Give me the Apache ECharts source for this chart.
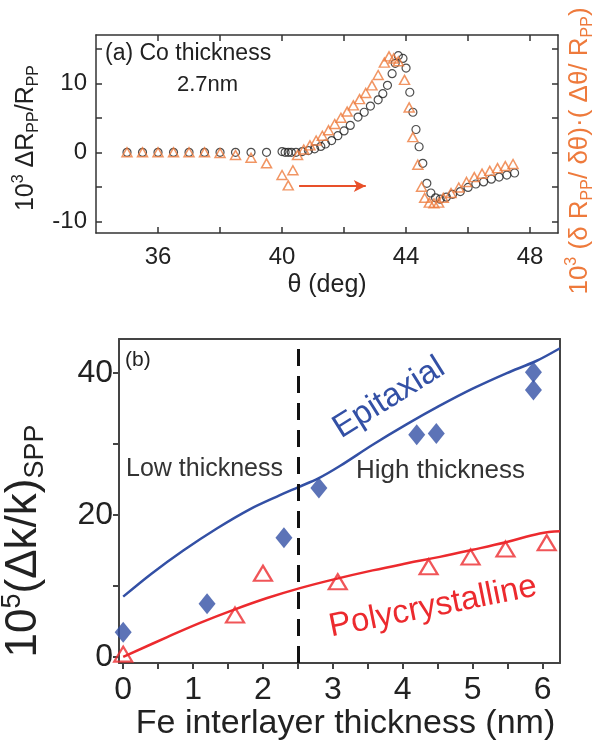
<!DOCTYPE html>
<html><head><meta charset="utf-8">
<script src="https://cdn.jsdelivr.net/npm/echarts@6/dist/echarts.min.js"></script>
<style>html,body{margin:0;padding:0;background:#fff}#c{width:593px;height:747px}</style>
</head><body><div id="c"></div>
<script>
// ---- Panel (a) data ----
const thetaCircles = [35,35.5,36,36.5,37,37.5,38,38.5,39,39.5,
  40.0,40.1,40.2,40.3,40.45,40.65,40.85,41.05,41.25,41.4,41.6,41.8,42.0,42.2,
  42.45,42.65,42.85,43.1,43.25,43.4,43.55,43.65,43.75,43.9,
  44.0,44.12,44.22,44.32,44.42,44.54,44.67,44.8,44.95,45.1,
  45.3,45.5,45.75,46.0,46.25,46.5,46.75,47.0,47.25,47.5];
const rCircles = [0,0,0,0,0,0,0,0,0,0,
  0.1,0,0,0,0,0.1,0.25,0.5,0.85,1.2,1.7,2.4,3.1,3.9,
  5.1,5.8,6.7,7.6,8.5,9.7,11.4,12.9,14.0,13.6,
  12.2,8.7,5.8,3.3,0.8,-1.6,-4.5,-5.9,-6.6,-6.8,
  -6.5,-6.1,-5.7,-5.1,-4.6,-4.3,-3.9,-3.6,-3.3,-3.0];
const thetaTriangles = [35,35.5,36,36.5,37,37.5,38,38.5,39,39.5,
  40.0,40.2,40.35,40.5,40.7,40.9,41.1,41.3,41.5,41.7,
  41.9,42.1,42.3,42.5,42.7,42.9,43.1,43.3,43.45,43.6,
  43.75,43.95,44.1,44.22,44.38,44.5,44.6,44.75,44.9,45.05,
  45.2,45.45,45.7,45.95,46.2,46.45,46.7,46.95,47.2,47.45];
const rTriangles = [0,0,0,0,0,0,-0.1,-0.4,-0.8,-1.6,
  -3.3,-4.8,-2.6,-0.4,0.4,1.0,1.7,2.4,3.2,4.1,
  5.0,5.9,6.8,7.7,8.6,9.7,11.2,13.0,13.9,13.6,
  13.2,10.5,6.5,2.2,-1.8,-5.0,-6.6,-7.3,-7.4,-7.3,
  -6.6,-5.9,-5.1,-4.3,-3.6,-3.1,-2.7,-2.3,-2.0,-1.7];
const arrowFrom = [40.55, -4.9];
const arrowTo = [42.7, -4.9];
const aXLabels = [36,40,44,48];
const aXTicks = [36,38,40,42,44,46,48];
const aYLabels = [-10,0,10];
const aYTicks = [-10,-5,0,5,10,15];

// ---- Panel (b) data ----
const epiX = [0,1.2,2.3,2.8,4.2,4.48,5.87,5.87];
const epiY = [3.5,7.5,16.8,23.8,31.3,31.5,40.1,37.6];
const polyX = [0,1.6,2.0,3.07,4.37,4.97,5.47,6.06];
const polyY = [0.4,5.9,11.8,10.6,12.7,14.1,15.2,16.1];
const epiFitX = [0,0.4,0.86,1.34,1.81,2.2,2.5,2.8,3.1,3.57,4.06,4.53,5.0,5.49,5.91,6.25];
const epiFitY = [8.5,11.7,15.0,18.1,20.8,22.6,23.9,25.2,26.9,29.9,32.8,35.4,37.8,40.0,41.7,43.5];
const polyFitX = [0,0.63,1.1,1.57,2.06,2.53,3.0,3.57,4.06,4.53,5.0,5.49,5.96,6.25];
const polyFitY = [0,2.8,4.8,6.6,8.3,9.7,10.9,12.2,13.2,14.1,15.1,16.2,17.4,17.7];
const boundaryX = 2.5;
const bXLabels = [0,1,2,3,4,5,6];
const bXTicks = [0,0.5,1,1.5,2,2.5,3,3.5,4,4.5,5,5.5,6];
const bYLabels = [0,20,40];
const bYTicks = [0,10,20,30,40];

const F = 'Liberation Sans, Arial, sans-serif';
const zip = (a,b) => a.map((v,i)=>[v,b[i]]);
const ORANGE = '#EE7A3C', BLUE = '#3350A5', RED = '#EC2A2E';

function richSet(fs, color, r){
  r = r || 0.62;
  return {
    n:{fontSize:fs, lineHeight:fs+6, fontFamily:F, color:color},
    sup:{fontSize:Math.round(fs*r), lineHeight:Math.round(fs*r), verticalAlign:'top', fontFamily:F, color:color},
    sub:{fontSize:Math.round(fs*r), lineHeight:Math.round(fs*r), verticalAlign:'bottom', fontFamily:F, color:color}
  };
}

const lineA = {color:'#333', width:1.5};
const lineB = {color:'#444', width:2};

const chart = echarts.init(document.getElementById('c'), null, {renderer:'canvas'});
chart.setOption({
  animation:false,
  backgroundColor:'#fff',
  grid:[
    {left:96, top:35, width:462, height:198, outerBoundsMode:'none', containLabel:false},
    {left:119, top:339, width:441, height:324, outerBoundsMode:'none', containLabel:false}
  ],
  xAxis:[
    {gridIndex:0, type:'value', min:34, max:48.9, position:'bottom',
     axisLine:{show:true, onZero:false, lineStyle:lineA},
     axisTick:{show:true, inside:true, length:6, customValues:aXTicks, lineStyle:lineA},
     axisLabel:{customValues:aXLabels, fontSize:24, color:'#222', margin:12, fontFamily:F},
     splitLine:{show:false},
     name:'θ (deg)', nameLocation:'middle', nameGap:40,
     nameTextStyle:{fontSize:25, color:'#222', fontFamily:F}},
    {gridIndex:0, type:'value', min:34, max:48.9, position:'top',
     axisLine:{show:true, onZero:false, lineStyle:lineA},
     axisTick:{show:true, inside:true, length:6, customValues:aXTicks, lineStyle:lineA},
     axisLabel:{show:false}, splitLine:{show:false}},
    {gridIndex:1, type:'value', min:-0.06, max:6.25, position:'bottom',
     axisLine:{show:true, onZero:false, lineStyle:lineB},
     axisTick:{show:true, inside:false, length:6, customValues:bXTicks, lineStyle:lineB},
     axisLabel:{customValues:bXLabels, fontSize:32, color:'#222', margin:11, fontFamily:F},
     splitLine:{show:false},
     name:'Fe interlayer thickness (nm)', nameLocation:'middle', nameGap:44,
     nameTextStyle:{fontSize:34, color:'#222', fontFamily:F, padding:[0,0,0,12]}},
    {gridIndex:1, type:'value', min:-0.06, max:6.25, position:'top',
     axisLine:{show:true, onZero:false, lineStyle:lineB},
     axisTick:{show:false}, axisLabel:{show:false}, splitLine:{show:false}}
  ],
  yAxis:[
    {gridIndex:0, type:'value', min:-11.7, max:17, position:'left',
     axisLine:{show:true, onZero:false, lineStyle:lineA},
     axisTick:{show:true, inside:true, length:6, customValues:aYTicks, lineStyle:lineA},
     axisLabel:{customValues:aYLabels, fontSize:24, color:'#222', margin:9, fontFamily:F},
     splitLine:{show:false},
     name:'{n|10}{sup|3}{n| ΔR}{sub|PP}{n|/R}{sub|PP}', nameLocation:'middle', nameGap:50,
     nameTextStyle:{rich:richSet(25,'#222',0.65), padding:[0,8,0,0]}},
    {gridIndex:0, type:'value', min:-11.7, max:17, position:'right',
     axisLine:{show:true, onZero:false, lineStyle:lineA},
     axisTick:{show:true, inside:true, length:6, customValues:aYTicks, lineStyle:lineA},
     axisLabel:{show:false}, splitLine:{show:false},
     name:'{n|10}{sup|3}{n| (δ R}{sub|PP}{n|/ δθ)·( Δθ/ R}{sub|PP}{n|)}', nameLocation:'middle', nameGap:6,
     nameTextStyle:{rich:richSet(26,ORANGE), padding:[0,34,0,0]}},
    {gridIndex:1, type:'value', min:-0.85, max:44.8, position:'left',
     axisLine:{show:true, onZero:false, lineStyle:lineB},
     axisTick:{show:true, inside:false, length:6, customValues:bYTicks, lineStyle:lineB},
     axisLabel:{customValues:bYLabels, fontSize:32, color:'#222', margin:6, fontFamily:F},
     splitLine:{show:false},
     name:'{n|10}{sup|5}{n|(Δk/k)}{sub|SPP}', nameLocation:'middle', nameGap:70,
     nameTextStyle:{rich:richSet(44,'#222',0.62), padding:[0,80,0,0]}},
    {gridIndex:1, type:'value', min:-0.85, max:44.8, position:'right',
     axisLine:{show:true, onZero:false, lineStyle:lineB},
     axisTick:{show:false}, axisLabel:{show:false}, splitLine:{show:false}}
  ],
  series:[
    {type:'scatter', xAxisIndex:0, yAxisIndex:0, data:zip(thetaCircles,rCircles),
     symbol:'circle', symbolSize:8,
     itemStyle:{color:'rgba(0,0,0,0)', borderColor:'#222', borderWidth:1.2}, z:3,
     markLine:{silent:true, symbol:['none','arrow'], symbolSize:[9,12],
       lineStyle:{color:'#E8502A', width:2, type:'solid'}, label:{show:false},
       data:[[{coord:arrowFrom},{coord:arrowTo}]]}},
    {type:'scatter', xAxisIndex:0, yAxisIndex:0, data:zip(thetaTriangles,rTriangles),
     symbol:'triangle', symbolSize:[10,9],
     itemStyle:{color:'rgba(0,0,0,0)', borderColor:ORANGE, borderWidth:1.5}, z:4},
    {type:'line', xAxisIndex:2, yAxisIndex:2, data:zip(epiFitX,epiFitY), smooth:0.3,
     showSymbol:false, symbol:'none', lineStyle:{color:BLUE, width:2.5}, z:2},
    {type:'line', xAxisIndex:2, yAxisIndex:2, data:zip(polyFitX,polyFitY), smooth:0.4,
     showSymbol:false, symbol:'none', lineStyle:{color:RED, width:2.5}, z:2},
    {type:'scatter', xAxisIndex:2, yAxisIndex:2, data:zip(epiX,epiY),
     symbol:'diamond', symbolSize:[17,21], itemStyle:{color:BLUE}, z:4},
    {type:'scatter', xAxisIndex:2, yAxisIndex:2, data:zip(polyX,polyY),
     symbol:'triangle', symbolSize:[18,15],
     itemStyle:{color:'rgba(0,0,0,0)', borderColor:RED, borderWidth:2.2}, z:4,
     markLine:{silent:true, symbol:'none', label:{show:false},
       lineStyle:{color:'#111', width:3, type:[17,10]},
       data:[{xAxis:boundaryX}]}}
  ],
  graphic:[
    {type:'text', left:105, top:42, style:{text:'(a) Co thickness', font:'23px '+F, fill:'#222'}},
    {type:'text', left:177, top:74, style:{text:'2.7nm', font:'22px '+F, fill:'#222'}},
    {type:'text', left:125, top:350, style:{text:'(b)', font:'21px '+F, fill:'#222'}},
    {type:'text', left:126, top:457, style:{text:'Low thickness', font:'25px '+F, fill:'#333'}},
    {type:'text', left:356, top:458, style:{text:'High thickness', font:'26px '+F, fill:'#333'}},
    {type:'text', x:389, y:398, rotation:32*Math.PI/180,
     style:{text:'Epitaxial', font:'33px '+F, fill:BLUE, textAlign:'center', verticalAlign:'middle', textVerticalAlign:'middle'}},
    {type:'text', x:433, y:607, rotation:11.3*Math.PI/180,
     style:{text:'Polycrystalline', font:'33px '+F, fill:RED, textAlign:'center', verticalAlign:'middle', textVerticalAlign:'middle'}}
  ]
});
</script></body></html>
